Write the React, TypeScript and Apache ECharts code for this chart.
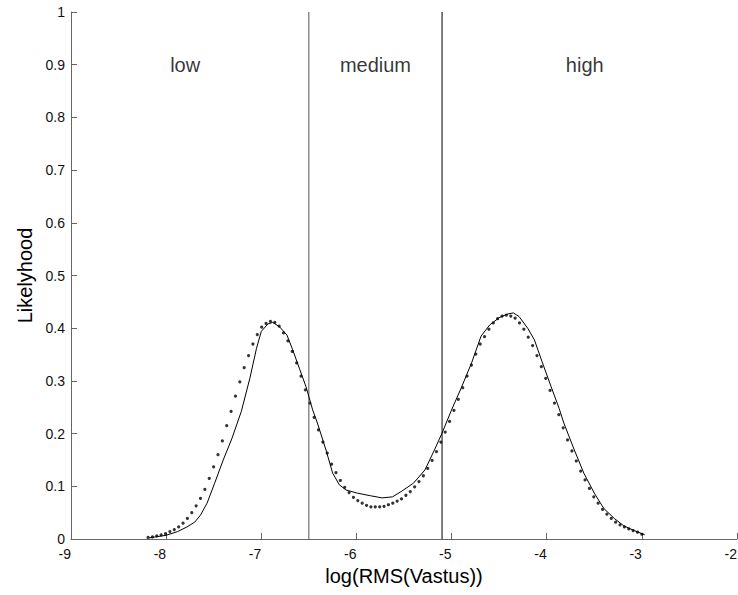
import React, { useEffect, useRef } from "react";
import * as echarts from "echarts";

// Solid curve: [log(RMS), likelihood]
const solidCurve: [number, number][] = [
  [-8.18, 0.002], [-8.0, 0.007], [-7.88, 0.014], [-7.78, 0.023], [-7.7, 0.032],
  [-7.64, 0.045], [-7.57, 0.068], [-7.49, 0.106], [-7.4, 0.15], [-7.31, 0.19],
  [-7.21, 0.242], [-7.12, 0.305], [-7.05, 0.362], [-7.0, 0.394], [-6.93, 0.408],
  [-6.88, 0.411], [-6.81, 0.403], [-6.73, 0.387], [-6.67, 0.359], [-6.6, 0.324],
  [-6.53, 0.289], [-6.46, 0.245], [-6.41, 0.22], [-6.32, 0.169], [-6.25, 0.125],
  [-6.18, 0.103], [-6.11, 0.093], [-5.99, 0.087], [-5.85, 0.082], [-5.73, 0.078],
  [-5.62, 0.08], [-5.53, 0.09], [-5.4, 0.106], [-5.28, 0.131], [-5.18, 0.169],
  [-5.1, 0.201], [-5.0, 0.245], [-4.9, 0.286], [-4.79, 0.334], [-4.69, 0.385],
  [-4.6, 0.406], [-4.5, 0.42], [-4.41, 0.427], [-4.35, 0.429], [-4.29, 0.422],
  [-4.2, 0.4], [-4.13, 0.378], [-4.05, 0.337], [-3.96, 0.292], [-3.87, 0.248],
  [-3.82, 0.22], [-3.71, 0.169], [-3.61, 0.125], [-3.5, 0.087], [-3.4, 0.058],
  [-3.29, 0.039], [-3.19, 0.025], [-3.08, 0.016], [-2.97, 0.008],
];

// Dotted curve: evenly sampled from dotXStart to dotXEnd
const dotXStart = -8.19;
const dotXEnd = -3.0;
const dotValues: number[] = [
  0.003, 0.004, 0.006, 0.008, 0.01, 0.014, 0.018, 0.023, 0.03, 0.039, 0.05, 0.063, 0.077, 0.094, 0.115, 0.137, 0.16, 0.186,
  0.215, 0.242, 0.271, 0.298, 0.325, 0.348, 0.37, 0.388, 0.402, 0.409, 0.413, 0.411, 0.404, 0.391, 0.376, 0.356, 0.334, 0.309, 0.283, 0.258,
  0.231, 0.207, 0.184, 0.163, 0.142, 0.126, 0.111, 0.098, 0.088, 0.079, 0.073, 0.068, 0.064, 0.061, 0.061, 0.061, 0.062, 0.065, 0.068, 0.072,
  0.076, 0.083, 0.09, 0.099, 0.109, 0.12, 0.134, 0.149, 0.166, 0.184, 0.203, 0.223, 0.244, 0.265, 0.287, 0.309, 0.33, 0.351, 0.37,
  0.384, 0.398, 0.41, 0.418, 0.423, 0.425, 0.423, 0.419, 0.41, 0.398, 0.383, 0.367, 0.348, 0.327, 0.305, 0.282, 0.258,
  0.236, 0.211, 0.188, 0.167, 0.148, 0.129, 0.112, 0.096, 0.08, 0.068, 0.056, 0.047, 0.039, 0.032, 0.027, 0.023, 0.019, 0.016, 0.013, 0.009,
];

const boundaries: number[] = [-6.5, -5.1];
const regionNames: string[] = ["low", "medium", "high"];
const regionCenters: number[] = [-7.8, -5.8, -3.6];
const regionLabelLevel = 0.9;

const xTicks = { min: -9, max: -2, interval: 1 };
const yTicks = { min: 0, max: 1, interval: 0.1 };

const FONT = '"Liberation Sans", Arial, Helvetica, sans-serif';

export default function App() {
  const ref = useRef<HTMLDivElement>(null);

  useEffect(() => {
    if (!ref.current) return;
    const chart = echarts.init(ref.current, null, { renderer: "svg" });
    const n = dotValues.length;
    const step = (dotXEnd - dotXStart) / (n - 1);
    const dotData = dotValues.map((v, i) => [dotXStart + i * step, v]);

    const axisLine = { lineStyle: { color: "#666", width: 1 } };
    const axisTick = { inside: true, length: 6, lineStyle: { color: "#666" } };

    chart.setOption({
      animation: false,
      backgroundColor: "#fff",
      textStyle: { fontFamily: FONT },
      grid: {
        left: 71,
        right: 1,
        top: 12,
        bottom: 56,
        containLabel: false,
        outerBoundsMode: "none",
      },
      xAxis: {
        type: "value",
        min: xTicks.min,
        max: xTicks.max,
        interval: xTicks.interval,
        name: "log(RMS(Vastus))",
        nameLocation: "middle",
        nameGap: 27,
        nameTextStyle: { fontSize: 20, color: "#000", fontFamily: FONT },
        axisLine,
        axisTick,
        splitLine: { show: false },
        axisLabel: { fontSize: 14, color: "#111", margin: 8, align: "right", fontFamily: FONT },
      },
      yAxis: {
        type: "value",
        min: yTicks.min,
        max: yTicks.max,
        interval: yTicks.interval,
        name: "Likelyhood",
        nameLocation: "middle",
        nameGap: 31,
        nameTextStyle: { fontSize: 20, color: "#000", fontFamily: FONT },
        axisLine,
        axisTick,
        splitLine: { show: false },
        axisLabel: { fontSize: 14, color: "#111", margin: 6, fontFamily: FONT },
      },
      series: [
        {
          type: "line",
          data: [[boundaries[0], yTicks.min], [boundaries[0], yTicks.max]],
          showSymbol: false,
          lineStyle: { color: "#555", width: 1 },
          silent: true,
        },
        {
          type: "line",
          data: [[boundaries[1], yTicks.min], [boundaries[1], yTicks.max]],
          showSymbol: false,
          lineStyle: { color: "#000", width: 1 },
          silent: true,
        },
        {
          type: "line",
          data: solidCurve,
          showSymbol: false,
          smooth: false,
          lineStyle: { color: "#000", width: 1 },
        },
        {
          type: "scatter",
          data: dotData,
          symbol: "circle",
          symbolSize: 3.2,
          itemStyle: { color: "#000" },
        },
        {
          type: "scatter",
          data: regionNames.map((name, i) => ({ value: [regionCenters[i], regionLabelLevel], name })),
          symbolSize: 0,
          label: {
            show: true,
            position: "inside",
            formatter: (p: any) => p.name,
            fontSize: 20,
            color: "#000",
            fontFamily: FONT,
          },
          silent: true,
        },
      ],
    });
    return () => chart.dispose();
  }, []);

  return (
    <div
      ref={ref}
      style={{ position: "fixed", left: 0, top: 0, width: 738, height: 595, background: "#fff" }}
    />
  );
}
